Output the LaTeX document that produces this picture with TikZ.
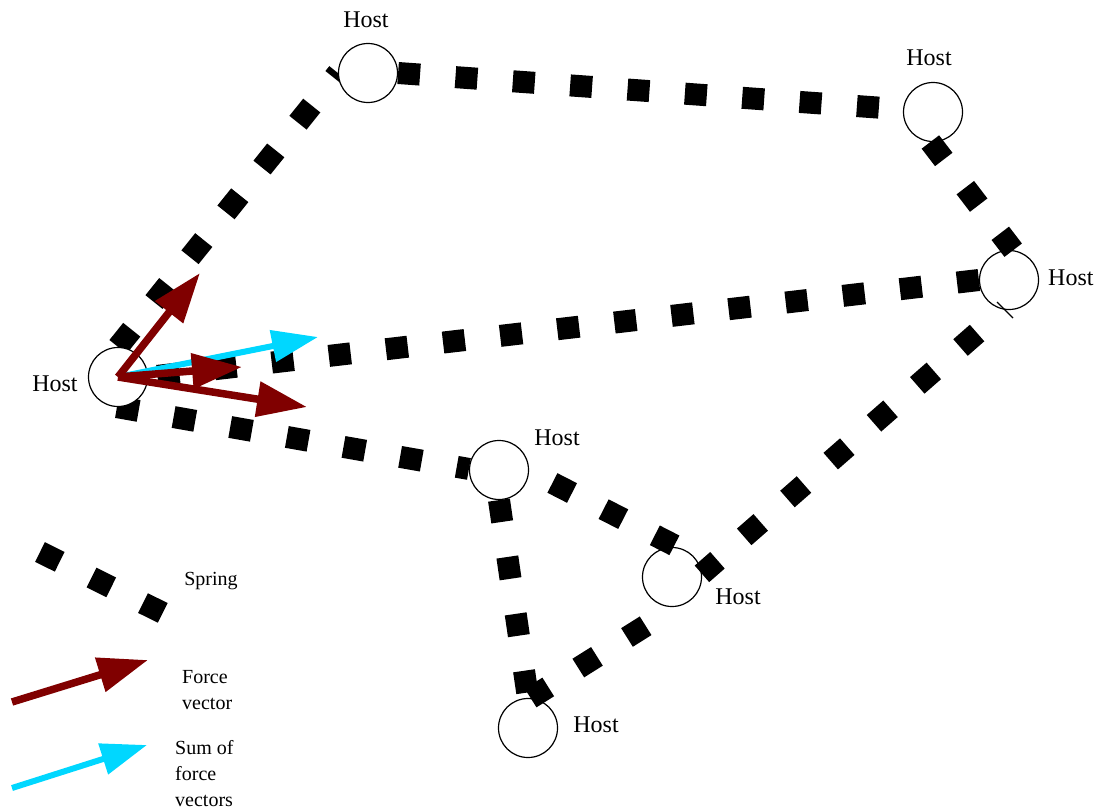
\documentclass[tikz,border=0pt]{standalone}
\usepackage{fontspec}
\setmainfont{Liberation Serif}
\usetikzlibrary{arrows.meta}
\definecolor{forcered}{RGB}{128,0,0}
\definecolor{sumcyan}{RGB}{0,215,255}
\pgfdeclarelayer{under}
\pgfsetlayers{under,main}
\begin{document}
\begin{tikzpicture}[x=1pt,y=-1pt,
  host/.style={circle,draw,line width=1.2pt,fill=white,minimum size=59pt,inner sep=0pt},
  hostlabel/.style={font=\fontsize{24}{28}\selectfont,inner sep=0pt},
  spring/.style={line width=22pt,dash pattern=on 22pt off 35.5pt},
  latespring/.style={spring,dash phase=22pt},
  force/.style={draw=forcered,line width=7.5pt,-{Triangle[length=50pt,width=34pt]}},
  sumforce/.style={draw=sumcyan,line width=6pt,-{Triangle[length=46pt,width=31pt]}},
  legendtext/.style={font=\fontsize{20}{26}\selectfont,align=left,inner sep=0pt}]
\useasboundingbox (0,0) rectangle (1102,811);

% hosts
\node[host] (H1) at (368,73) {};
\node[host] (H2) at (933,112) {};
\node[host] (H3) at (1009,280) {};
\node[host] (H4) at (118,377) {};
\node[host] (H5) at (499,470) {};
\node[host] (H6) at (672,577) {};
\node[host] (H7) at (528,728) {};

% host labels
\node[hostlabel] (L1) at (366,20) {Host};
\node[hostlabel] (L2) at (929,58) {Host};
\node[hostlabel,anchor=west] (L3) at (1048,278) {Host};
\node[hostlabel] (L4) at (55,384) {Host};
\node[hostlabel] (L5) at (557,438) {Host};
\node[hostlabel] (L6) at (738,597) {Host};
\node[hostlabel] (L7) at (596,725) {Host};

% springs hidden under the host discs
\begin{pgfonlayer}{under}
  \draw[spring] (H4.90) -- (H1.180);
  \draw[spring] (H4.-92) -- (H5.178);
  \draw[spring] (H5.-90) -- (H7.90);
\end{pgfonlayer}

% springs lying over the host discs
\draw[spring] (H1.0) -- (H2.175);
\draw[spring] (H2.-95) -- (H3.82);
\draw[spring] (H3.180) -- (H4.0);
\draw[spring,dash phase=31.3pt] (H5.-2) -- (H6.76);
\draw[latespring] (H6.-83) -- (H7.85);
\draw[latespring] (H3.-100) -- (H6.6);

% small stroke on the right host
\draw[line width=1.3pt] (997,302) -- (1013,318);

% force vectors acting on the left host
\coordinate (fUp) at (200,273);
\coordinate (fMid) at (242,367);
\coordinate (fLow) at (307,407);
\coordinate (fSum) at (318,337);
\draw[sumforce] (H4.center) -- (fSum);
\draw[force] (H4.center) -- (fUp);
\draw[force] (H4.center) -- (fMid);
\draw[force] (H4.center) -- (fLow);

% legend
\coordinate (lsA) at (40,552);
\coordinate (lsB) at (163,613);
\draw[spring] (lsA) -- (lsB);
\node[legendtext] (springtxt) at (211,581) {Spring};

\coordinate (lfA) at (12,702);
\coordinate (lfB) at (148,660);
\draw[force] (lfA) -- (lfB);
\node[legendtext,anchor=west] (forcetxt) at (182,690) {Force\\vector};

\coordinate (lcA) at (12,788);
\coordinate (lcB) at (147,745);
\draw[sumforce] (lcA) -- (lcB);
\node[legendtext,anchor=west] (sumtxt) at (175,774) {Sum of\\force\\vectors};
\end{tikzpicture}
\end{document}
